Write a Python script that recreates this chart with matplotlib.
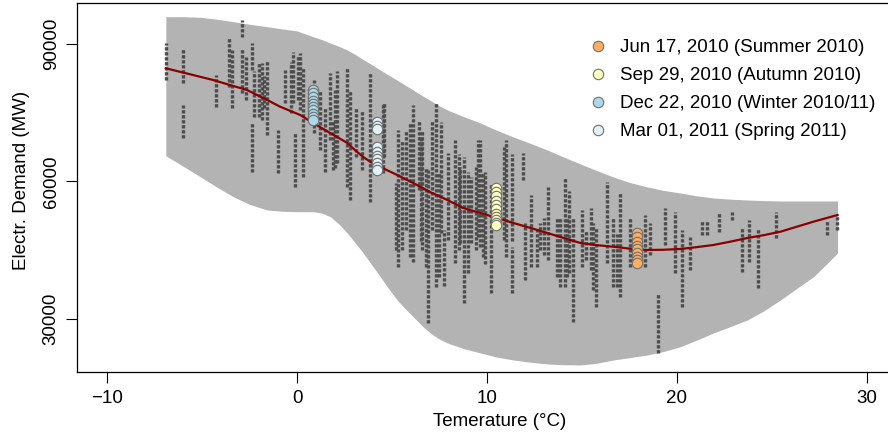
import numpy as np
import matplotlib
matplotlib.use("Agg")
import matplotlib.pyplot as plt

plt.rcParams['font.family'] = ['Liberation Sans', 'DejaVu Sans']

#%% Data

# prediction band (grey area)
band_temp = [-6.92, -6.0, -5.11, -4.2, -3.37, -2.5, -1.58, -0.8, 0.0, 0.84, 1.3, 1.74,
             2.2, 2.64, 3.06, 3.48, 3.93, 4.38, 4.82, 5.27, 5.7, 6.11, 6.56, 7.01,
             7.45, 7.91, 8.8, 9.65, 10.5, 11.39, 12.3, 13.18, 14.0, 14.92, 15.8, 16.66,
             17.5, 18.45, 19.3, 20.19, 21.0, 21.93, 22.8, 23.72, 24.6, 25.46, 26.3, 27.2,
             27.85, 28.47]
band_upper = [95960, 95950, 95830, 95400, 94870, 94300, 93770, 93300, 92840, 91590, 90950, 90200,
              89500, 88690, 87700, 86600, 85500, 84330, 83200, 82100, 81000, 79960, 78800, 77700,
              76600, 75600, 74100, 72760, 71200, 69710, 68300, 66870, 65400, 63820, 62350, 60980,
              59800, 58800, 58050, 57490, 56900, 56400, 56150, 55960, 55830, 55740, 55740, 55740,
              55740, 55740]
band_lower = [65630, 63300, 61045, 58700, 56680, 55000, 53780, 53500, 53410, 53410, 53100, 52320,
              50700, 48760, 46600, 44400, 41800, 39225, 36600, 34140, 32200, 30500, 28600, 26940,
              25700, 24760, 23500, 22580, 21700, 21050, 20550, 20180, 20020, 19960, 20350, 21050,
              21550, 22140, 22900, 23950, 25300, 26940, 28300, 29780, 31800, 34140, 36600, 39220,
              41800, 44400]

# fitted curve
curve_temp = [-6.92, -5.7, -4.43, -3.5, -2.64, -1.58, -0.9, 0.16, 0.84, 1.74, 2.64, 3.06,
              3.48, 3.93, 4.38, 5.27, 6.11, 7.0, 7.91, 8.75, 9.65, 10.54, 11.39, 12.3,
              13.18, 14.05, 14.92, 15.8, 16.66, 17.5, 18.45, 19.3, 20.19, 21.0, 21.93, 22.8,
              23.72, 24.6, 25.46, 26.3, 27.2, 28.47]
curve_demand = [84700, 83450, 82145, 81000, 79960, 77780, 76320, 74510, 72760, 70580, 68400, 66800,
                65340, 64100, 63160, 61420, 59670, 57700, 55960, 54210, 53120, 52030, 50940, 49850,
                48760, 47650, 46580, 46100, 45770, 45350, 45050, 45100, 45270, 45650, 46140, 46850,
                47670, 48300, 49040, 50100, 51225, 52690]

# hourly demand per day, drawn as vertical runs (temperature, lowest, highest)
seg_temp = [-6.9, -6.0, -6.0, -4.3, -3.6, -3.45, -2.9, -2.9, -2.7, -2.4, -2.4, -2.3,
            -2.0, -1.85, -1.75, -1.6, -1.0, -0.63, -0.35, -0.2, -0.1, 0.05, 0.15, 0.33,
            0.9, 1.2, 1.45, 1.75, 1.9, 2.0, 2.1, 2.6, 2.8, 3.1, 3.4, 3.85,
            4.5, 4.6, 5.2, 5.3, 5.5, 5.75, 5.95, 6.1, 6.4, 6.5, 6.6, 6.8,
            6.9, 7.1, 7.3, 7.45, 7.6, 7.75, 7.95, 8.3, 8.5, 8.6, 8.8, 9.0,
            9.15, 9.4, 9.55, 9.65, 9.8, 9.9, 10.2, 10.9, 11.0, 11.3, 11.3, 11.9,
            12.0, 12.3, 12.65, 12.8, 13.0, 13.2, 13.7, 13.85, 14.1, 14.2, 14.3, 14.55,
            15.0, 15.2, 15.5, 15.6, 15.75, 16.3, 16.65, 16.85, 17.0, 17.55, 18.35, 18.6,
            19.0, 19.4, 19.9, 20.3, 20.7, 21.35, 21.6, 22.2, 22.9, 23.45, 23.8, 24.3,
            25.25, 27.9, 28.45]
seg_low = [82100, 81500, 69500, 76300, 80600, 76000, 91500, 79300, 77800, 84300, 62100, 74000,
           74000, 73400, 76000, 70100, 61900, 77100, 75000, 77100, 58800, 77800, 75500, 61000,
           70600, 66900, 62000, 69000, 62500, 63000, 64000, 58800, 56000, 65300, 62500, 55500,
           61900, 65300, 45000, 41300, 45000, 49400, 43500, 42400, 58100, 47000, 45000, 41300,
           29100, 49400, 37000, 39200, 48700, 37300, 47200, 42200, 45000, 46600, 33500, 40000,
           46600, 45000, 47900, 45700, 43500, 42000, 35700, 47200, 43500, 47000, 35700, 60300,
           38500, 41300, 41300, 45000, 44000, 42900, 39200, 37000, 37000, 39200, 40000, 29300,
           41300, 42900, 40700, 36300, 32600, 42200, 37000, 37000, 34800, 41300, 41300, 44000,
           22600, 46100, 40000, 32600, 40700, 48300, 48300, 49000, 51600, 40200, 42400, 36800,
           47700, 48300, 49400]
seg_high = [90200, 88900, 76700, 83200, 91500, 88700, 95200, 89100, 87200, 90200, 72800, 84000,
            86000, 85900, 83000, 86500, 71200, 84300, 86000, 88300, 70600, 87500, 88000, 85000,
            82100, 80000, 76000, 83700, 73400, 80000, 84000, 85000, 80000, 76000, 75600, 83700,
            77100, 77300, 59700, 71200, 69000, 71200, 72800, 76700, 73400, 70000, 71200, 63200,
            62500, 73400, 77100, 61900, 73000, 49400, 66200, 69000, 66000, 63200, 65300, 62000,
            61000, 63200, 69000, 69000, 61900, 62000, 59700, 67500, 69000, 66000, 45700, 66200,
            51000, 57000, 50000, 51000, 52000, 58800, 52200, 52200, 60800, 52200, 58000, 52200,
            53800, 49400, 54200, 51000, 50000, 59900, 52200, 48500, 57500, 52200, 52600, 51000,
            35700, 54200, 53300, 49400, 47900, 51600, 51600, 53100, 53300, 49900, 51600, 49900,
            53300, 51600, 52600]

# highlighted days
day_labels = ["Jun 17, 2010 (Summer 2010)", "Sep 29, 2010 (Autumn 2010)",
              "Dec 22, 2010 (Winter 2010/11)", "Mar 01, 2011 (Spring 2011)"]
day_colors = ["#FDAE61", "#FFFFBF", "#ABD9E9", "#E0F3F8"]
day_temp = [17.9, 10.5, 0.82, 4.2]
summer_demand = [48800, 47900, 46700, 46000, 45300, 44500, 43600, 42800, 42200]
autumn_demand = [58500, 57600, 56800, 55800, 54800, 54000, 53000, 52200, 51500, 51000, 50600]
winter_demand = [80000, 79200, 78400, 77600, 76900, 76200, 75500, 74800, 74100, 73500]
spring_demand = [73000, 72200, 71500, 67500, 66500, 65500, 64800, 64000, 63200, 62600]
day_demand = [summer_demand, autumn_demand, winter_demand, spring_demand]

#%% Plot

fig = plt.figure(figsize=(8.88, 4.34), dpi=100)
ax = fig.add_axes([0.0867, 0.1429, 0.9234, 0.8495])

ax.fill_between(band_temp, band_lower, band_upper, color="#B3B3B3", lw=0, zorder=1)

ax.vlines(seg_temp, seg_low, seg_high, colors="#4D4D4D", linewidth=2.4,
          linestyles=(0, (1, 0.5)), zorder=2)

ax.plot(curve_temp, curve_demand, color="#8B0000", lw=1.6, zorder=3)

for t, vals, col, lab in zip(day_temp, day_demand, day_colors, day_labels):
    ax.plot([t] * len(vals), vals, 'o', ms=7.5, mfc=col, mec="#707070", mew=0.8,
            zorder=4, label=lab)

ax.set_xlim(-11.6, 31.6)
ax.set_ylim(18430, 98880)
ax.set_xticks([-10, 0, 10, 20, 30])
ax.set_yticks([30000, 60000, 90000])
ax.tick_params(direction='out', length=8, width=0.8, labelsize=13.5)
ax.tick_params(axis='x', pad=5)
ax.tick_params(axis='y', pad=4.5)
plt.setp(ax.get_yticklabels(), rotation=90, va='center')
for s in ax.spines.values():
    s.set_linewidth(0.9)

ax.set_xlabel("Temerature (°C)", fontsize=13.5)
ax.set_ylabel("Electr. Demand (MW)", fontsize=13.5)
ax.xaxis.set_label_coords((500 - 77) / 820.0, -0.111)
ax.yaxis.set_label_coords(-0.0576, 0.52)

ax.legend(loc='upper left', bbox_to_anchor=(589 / 888.0, 1 - 39 / 434.0),
          bbox_transform=fig.transFigure, frameon=False, fontsize=13.5,
          handlelength=1.0, handletextpad=0.65, labelspacing=0.58,
          borderpad=0, borderaxespad=0)

fig.savefig("out.png", dpi=100)
